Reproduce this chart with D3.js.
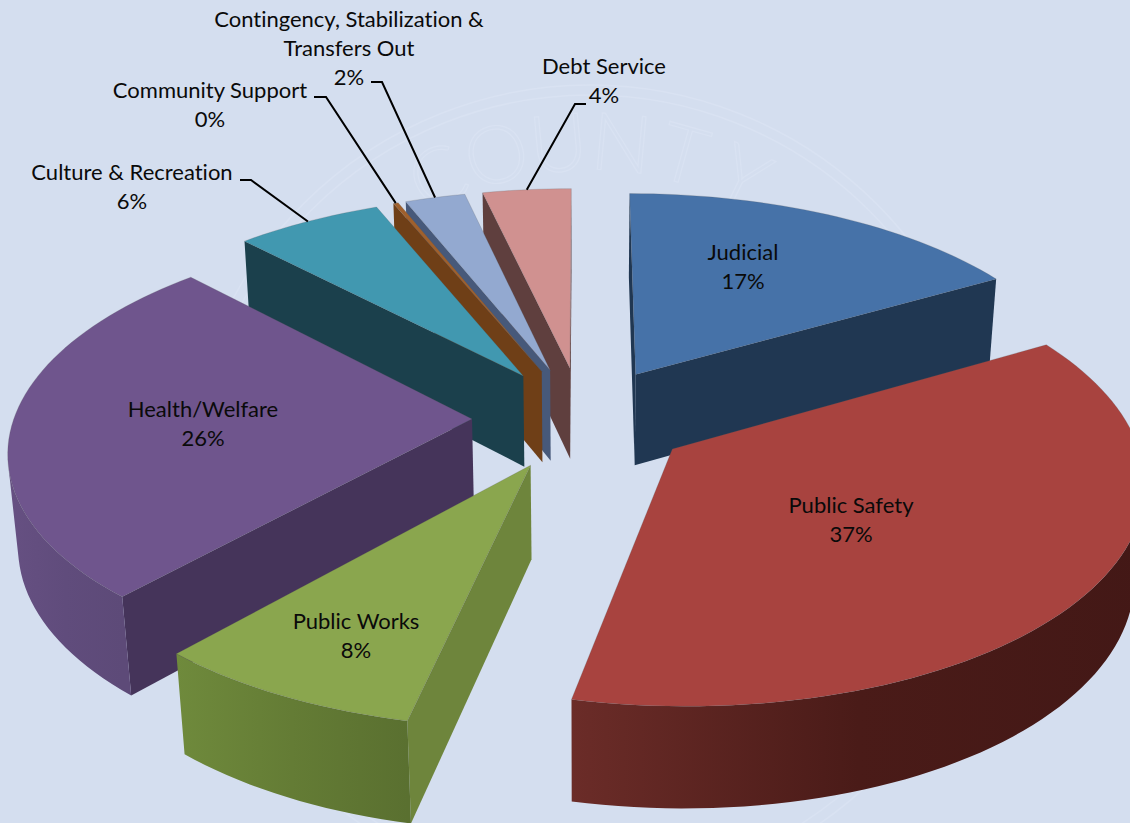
<!DOCTYPE html>
<html>
<head>
<meta charset="utf-8">
<script src="https://cdn.jsdelivr.net/npm/d3@7"></script>
<style>
  html, body { margin: 0; padding: 0; background: #d4deef; overflow: hidden; }
  svg { display: block; }
  text { font-family: Lato, "Open Sans", sans-serif; font-size: 22px; fill: #0a0a0a; text-anchor: middle; font-variant-ligatures: none; }
  text.seal { font-size: 80px; font-weight: 300; fill: none; stroke: #d9e2f2; stroke-width: 1.2; }
</style>
</head>
<body>
<div id="chart"></div>
<script>
// budget shares, clockwise from 12 o'clock
const categories = ['Judicial', 'Public Safety', 'Public Works', 'Health/Welfare',
  'Culture & Recreation', 'Community Support', 'Contingency, Stabilization & Transfers Out', 'Debt Service'];
const values = [16.7, 36.72, 8.18, 26.2, 5.95, 0.2, 2.45, 3.6];
const percentLabels = ['17%', '37%', '8%', '26%', '6%', '0%', '2%', '4%'];

const topColors = ['#4672a8', '#a8433f', '#8aa64e', '#6f558d', '#4198b0', '#a0602c', '#93a9d0', '#d09190'];
const sideColors = ['#203752', '#6a2a28', '#6e853c', '#45345a', '#1b404c', '#6f3f17', '#47597a', '#5f3f3e'];
// curved wall shading, from the slice's first edge to its last
const rimStart = ['#203752', '#431816', '#5a7030', '#5d4a78', '#1b404c', '#6f3f17', '#47597a', '#5f3f3e'];
const rimMid = ['#203752', '#4a1b18', '#647c35', '#604c7c', '#1b404c', '#6f3f17', '#47597a', '#5f3f3e'];
const rimEnd = ['#203752', '#6b2c28', '#6f8a3c', '#665082', '#1b404c', '#6f3f17', '#47597a', '#5f3f3e'];

// text layout: lines, centre x, first baseline y
const labelLayout = [
  { lines: ['Judicial'], x: 743, y: 260 },
  { lines: ['Public Safety'], x: 851, y: 513 },
  { lines: ['Public Works'], x: 356, y: 629 },
  { lines: ['Health/Welfare'], x: 203, y: 417 },
  { lines: ['Culture & Recreation'], x: 132, y: 180 },
  { lines: ['Community Support'], x: 210, y: 98 },
  { lines: ['Contingency, Stabilization &', 'Transfers Out'], x: 349, y: 27 },
  { lines: ['Debt Service'], x: 604, y: 74 }
];
// leader lines run from the label, through a bend, to the slice rim
const leaderBends = {
  4: [[240, 180], [251, 180]],
  5: [[314, 97], [326, 97]],
  6: [[371, 82], [382, 82]],
  7: [[586, 104], [575, 104]]
};
const sealLetters = ['C', 'O', 'U', 'N', 'T', 'Y'];

const width = 1130, height = 823;
const cx = 582, cy = 418, radiusX = 458, radiusY = 215, depth = 94;
const perspective = 0.13, shrink = 0.018, explode = 0.24;

function project(X, Y, Z) {
  const s = 1 / (1 - perspective * Y + shrink * Z);
  return [cx + X * radiusX * s, cy + (Y * radiusY + Z * depth) * s];
}

const svg = d3.select('#chart').append('svg')
  .attr('width', width)
  .attr('height', height);

svg.append('rect').attr('width', width).attr('height', height).attr('fill', '#d4deef');

// faint county seal behind the chart
const seal = svg.append('g').attr('transform', 'translate(590,490)');
seal.selectAll('circle').data([405, 395]).join('circle')
  .attr('r', d => d)
  .attr('fill', 'none')
  .attr('stroke', '#d9e2f2')
  .attr('stroke-width', 1.5);
const sealAngle = d3.scaleLinear().domain([0, sealLetters.length - 1]).range([-26, 26]);
seal.selectAll('text').data(sealLetters).join('text')
  .attr('class', 'seal')
  .attr('transform', (d, i) => `rotate(${sealAngle(i)}) translate(0,-320)`)
  .text(d => d);

const arcs = d3.pie().sort(null).value(d => d)(values);
const line = d3.line();

const slices = arcs.map((a, i) => {
  const mid = (a.startAngle + a.endAngle) / 2;
  const ox = Math.sin(mid) * explode, oy = -Math.cos(mid) * explode;
  const steps = Math.max(2, Math.ceil((a.endAngle - a.startAngle) / 0.03));
  const ground = d3.range(steps + 1).map(k => {
    const t = a.startAngle + (a.endAngle - a.startAngle) * k / steps;
    return [ox + Math.sin(t), oy - Math.cos(t)];
  });
  return { i, mid, ox, oy, ground };
});

const defs = svg.append('defs');

// back to front
const drawOrder = slices.slice().sort((a, b) => a.oy - b.oy);

function wallVisible(a, b) {
  const quad = [project(a[0], a[1], 0), project(b[0], b[1], 0), project(b[0], b[1], 1), project(a[0], a[1], 1)];
  return d3.polygonArea(quad) > 0;
}

drawOrder.forEach(sl => {
  const g = svg.append('g').attr('class', 'slice');
  const apex = [sl.ox, sl.oy];
  const outline = [apex, ...sl.ground, apex];
  const first = sl.ground[0], last = sl.ground[sl.ground.length - 1];

  // flat side walls
  [[apex, first], [last, apex]].filter(e => wallVisible(e[0], e[1])).forEach(e => {
    g.append('path')
      .attr('d', line([project(e[0][0], e[0][1], 0), project(e[1][0], e[1][1], 0),
        project(e[1][0], e[1][1], 1), project(e[0][0], e[0][1], 1)]) + 'Z')
      .attr('fill', sideColors[sl.i]);
  });

  // curved wall, one polygon for the part that faces the viewer
  const rimPts = sl.ground.filter((p, k) =>
    (k < sl.ground.length - 1 && wallVisible(p, sl.ground[k + 1])) ||
    (k > 0 && wallVisible(sl.ground[k - 1], p)));
  if (rimPts.length > 1) {
    const topEdge = rimPts.map(p => project(p[0], p[1], 0));
    const bottomEdge = rimPts.map(p => project(p[0], p[1], 1)).reverse();
    const grad = defs.append('linearGradient')
      .attr('id', 'rim' + sl.i)
      .attr('gradientUnits', 'userSpaceOnUse')
      .attr('x1', topEdge[0][0]).attr('x2', topEdge[topEdge.length - 1][0])
      .attr('y1', 0).attr('y2', 0);
    [rimStart, rimMid, rimEnd].forEach((c, k) => {
      grad.append('stop').attr('offset', k / 2).attr('stop-color', c[sl.i]);
    });
    g.append('path')
      .attr('d', line([...topEdge, ...bottomEdge]) + 'Z')
      .attr('fill', `url(#rim${sl.i})`);
  }

  g.append('path')
    .attr('class', 'top')
    .attr('d', line(outline.map(p => project(p[0], p[1], 0))) + 'Z')
    .attr('fill', topColors[sl.i])
    .attr('stroke', '#555')
    .attr('stroke-opacity', 0.2)
    .attr('stroke-width', 1);
});

// leader lines
const leaders = svg.append('g');
Object.keys(leaderBends).forEach(key => {
  const sl = slices[+key];
  const hit = project(sl.ox + Math.sin(sl.mid), sl.oy - Math.cos(sl.mid), 0);
  leaders.append('path')
    .attr('d', line([...leaderBends[key], hit]))
    .attr('fill', 'none')
    .attr('stroke', '#000')
    .attr('stroke-width', 2);
});

// labels: name lines then percent
const lineStep = 29;
const labels = svg.append('g');
labelLayout.forEach((d, i) => {
  const t = labels.append('text').attr('y', d.y);
  [...d.lines, percentLabels[i]].forEach((s, k) => {
    t.append('tspan').attr('x', d.x).attr('y', d.y + k * lineStep).text(s);
  });
});
</script>
</body>
</html>
